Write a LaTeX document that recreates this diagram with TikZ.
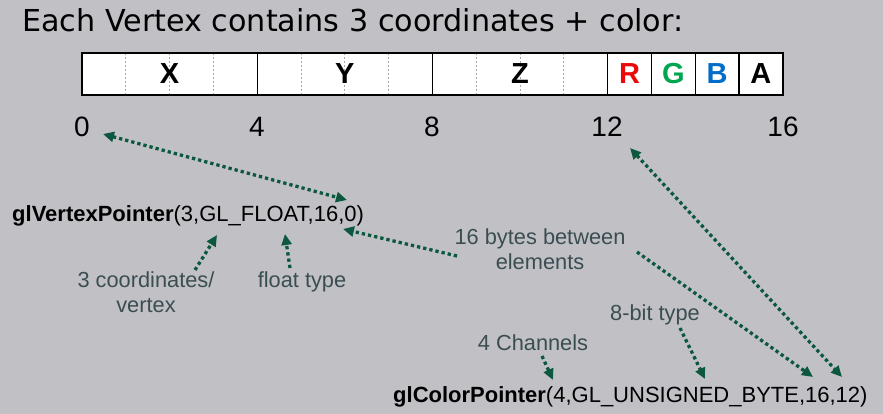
\documentclass[tikz,border=0pt]{standalone}
\usepackage{fontspec}
\setmainfont{Liberation Sans}
\newfontfamily\titlefont{DejaVu Sans}
\usetikzlibrary{arrows.meta}
\definecolor{bg}{RGB}{193,192,197}
\definecolor{arrowgreen}{RGB}{12,88,62}
\definecolor{labelgray}{RGB}{58,78,82}
\definecolor{rchan}{RGB}{235,10,10}
\definecolor{gchan}{RGB}{0,165,80}
\definecolor{bchan}{RGB}{0,110,200}
\begin{document}
\begin{tikzpicture}[x=1pt,y=-1pt,
  byteletter/.style={font=\fontsize{29}{29}\selectfont\bfseries, inner sep=0},
  offset/.style={font=\fontsize{28}{28}\selectfont, inner sep=1pt},
  code/.style={font=\fontsize{22}{22}\selectfont, inner sep=0, anchor=base west},
  lbl/.style={font=\fontsize{21.8}{24.5}\selectfont, text=labelgray, align=center, inner sep=0},
  pointer/.style={arrowgreen, line width=3.3pt, dash pattern=on 3.3pt off 3pt,
    -{Triangle[length=11pt,width=10pt]}},
  bipointer/.style={pointer, {Triangle[length=11pt,width=10pt]}-{Triangle[length=11pt,width=10pt]}}]
% page
\useasboundingbox (0,0) rectangle (883,414);
\fill[bg] (0,0) rectangle (883,414);
% title
\node[anchor=base west, inner sep=0, font=\titlefont\fontsize{30.2}{31}\selectfont] (title) at (22,32) {Each Vertex contains 3 coordinates + color:};
% byte layout of one vertex
\fill[white] (82,53) rectangle (783,95);
\foreach \b in {1,2,3,5,6,7,9,10,11}
  \draw[gray!70, line width=0.8pt, dash pattern=on 2pt off 2pt] ({82+43.8*\b},53) -- ({82+43.8*\b},95);
\node[byteletter] (bx) at ({82+43.8*2},74) {X};
\node[byteletter] (by) at ({82+43.8*6},74) {Y};
\node[byteletter] (bz) at ({82+43.8*10},74) {Z};
\node[byteletter, text=rchan] (br) at ({82+43.8*12.5},74) {R};
\node[byteletter, text=gchan] (bg) at ({82+43.8*13.5},74) {G};
\node[byteletter, text=bchan] (bb) at ({82+43.8*14.5},74) {B};
\node[byteletter] (ba) at ({82+43.8*15.5},74) {A};
\foreach \b in {4,8,12,13,14,15}
  \draw[black, line width=1.4pt] ({82+43.8*\b},53) -- ({82+43.8*\b},95);
\draw[black, line width=1.4pt] (82,53) rectangle (783,95);
% byte offsets
\node[offset] (n0) at (82,127) {0};
\node[offset] (n4) at (257,127) {4};
\node[offset] (n8) at (432,127) {8};
\node[offset] (n12) at (607,127) {12};
\node[offset] (n16) at (783,127) {16};
% calls
\node[code] (vp) at (12,222) {\textbf{glVertexPointer}(3,GL\_FLOAT,16,0)};
\node[code] (cp) at (393,402) {\textbf{glColorPointer}(4,GL\_UNSIGNED\_BYTE,16,12)};
% annotations
\node[lbl] (lsize) at (146,292) {3 coordinates/\\vertex};
\node[lbl] (ltype) at (302,282) {float type};
\node[lbl] (lstride) at (540,249) {16 bytes between\\elements};
\node[lbl] (lbyte) at (655,315) {8-bit type};
\node[lbl] (lchan) at (533,343) {4 Channels};
% arrow ends on the calls and labels
\coordinate (zeroTip) at (103,134);
\coordinate (vpOffset) at (347,200);
\coordinate (vpStride) at (343,229);
\coordinate (vpSize) at (217,235);
\coordinate (vpType) at (285,234);
\coordinate (strideL) at (457,256);
\coordinate (strideR) at (637,252);
\coordinate (sizeTop) at (195,270);
\coordinate (typeTop) at (290,268);
\coordinate (twelveTip) at (630,148);
\coordinate (cpStride) at (813,377);
\coordinate (cpOffset) at (842,377);
\coordinate (chanBot) at (542,356);
\coordinate (cpSize) at (553,380);
\coordinate (byteBot) at (680,328);
\coordinate (cpType) at (705,379);
% connectors
\draw[bipointer] (zeroTip) -- (vpOffset);
\draw[pointer] (strideL) -- (vpStride);
\draw[pointer] (sizeTop) -- (vpSize);
\draw[pointer] (typeTop) -- (vpType);
\draw[pointer] (strideR) -- (cpStride);
\draw[bipointer] (twelveTip) -- (cpOffset);
\draw[pointer] (chanBot) -- (cpSize);
\draw[pointer] (byteBot) -- (cpType);
\end{tikzpicture}
\end{document}
